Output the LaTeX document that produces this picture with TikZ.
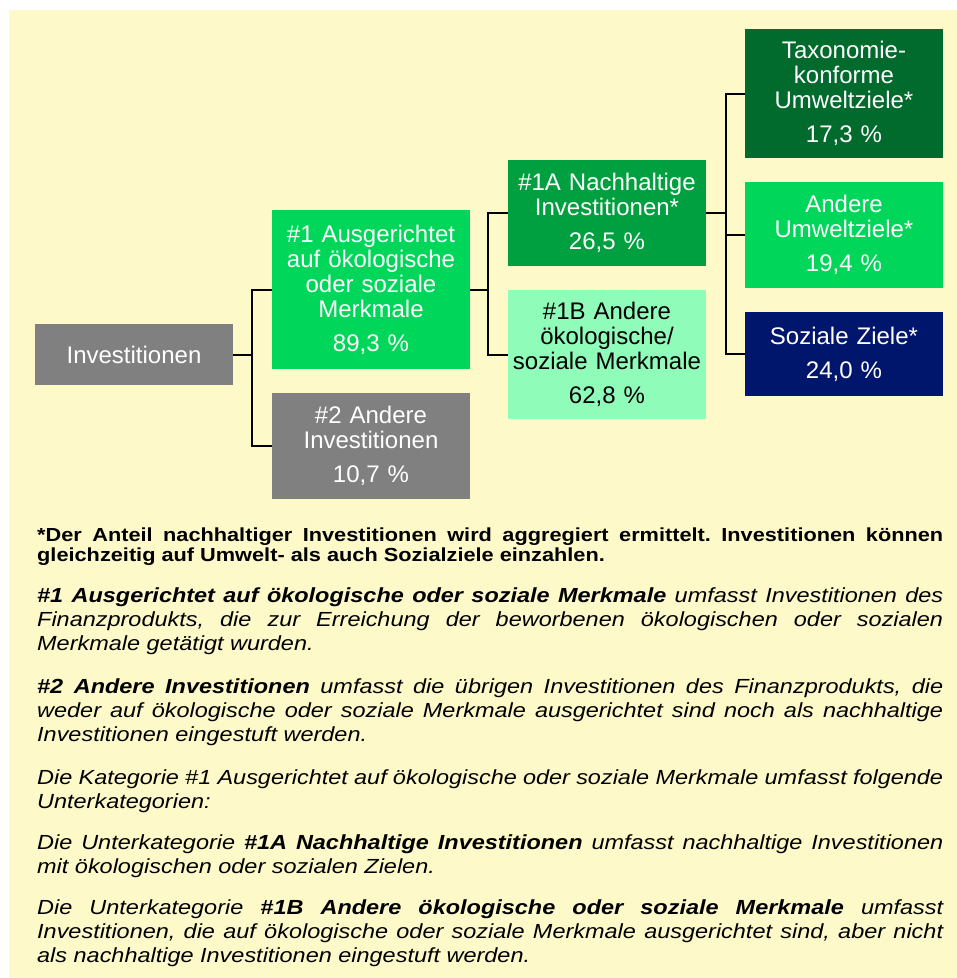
\documentclass[tikz,border=0pt]{standalone}
\usepackage{fontspec}
\setmainfont{Liberation Sans}
\newfontfamily\footfont[FakeStretch=1.15]{Liberation Sans}
\usepackage{tikz}

\definecolor{bgyellow}{HTML}{FDF9C9}
\definecolor{boxgray}{HTML}{808080}
\definecolor{greenbright}{HTML}{00D75A}
\definecolor{greenmid}{HTML}{00A040}
\definecolor{greendark}{HTML}{006B2D}
\definecolor{mint}{HTML}{8FFDB9}
\definecolor{navy}{HTML}{00166C}

\hyphenpenalty=10000
\exhyphenpenalty=10000
\frenchspacing

\begin{document}
\begin{tikzpicture}[x=1pt,y=-1pt,
    box/.style={minimum width=198pt,text width=196pt,align=center,inner sep=0pt,
        font=\fontsize{24}{25}\selectfont,text=white},
    conn/.style={line width=2pt},
    foot/.style={anchor=north west,text width=906pt,align=justify,inner sep=0pt,
        font=\footfont\fontsize{20.4}{24.4}\selectfont\itshape}]
    \useasboundingbox (0,0) rectangle (957,978);
    % background
    \fill[bgyellow] (9,10) rectangle (957,978);

    % boxes of the tree
    \node[box,fill=boxgray,minimum height=61pt] (inv) at (134,354.5) {Investitionen};
    \node[box,fill=greenbright,minimum height=159pt] (m1) at (371,289.5)
        {\#1 Ausgerichtet\\auf ökologische\\oder soziale\\Merkmale\\[9pt]89,3 \%};
    \node[box,fill=boxgray,minimum height=106pt] (m2) at (371,446)
        {\#2 Andere\\Investitionen\\[9pt]10,7 \%};
    \node[box,fill=greenmid,minimum height=106pt] (m1a) at (607,213)
        {\#1A Nachhaltige\\Investitionen*\\[9pt]26,5 \%};
    \node[box,fill=mint,text=black,minimum height=129pt] (m1b) at (607,354.5)
        {\#1B Andere\\ökologische/\\soziale Merkmale\\[9pt]62,8 \%};
    \node[box,fill=greendark,minimum height=129pt] (tax) at (844,93.5)
        {Taxonomie-\\konforme\\Umweltziele*\\[9pt]17,3 \%};
    \node[box,fill=greenbright,minimum height=106pt] (umw) at (844,235)
        {Andere\\Umweltziele*\\[9pt]19,4 \%};
    \node[box,fill=navy,minimum height=84pt] (soz) at (844,354)
        {Soziale Ziele*\\[9pt]24,0 \%};

    % connectors
    \draw[conn] (inv.east) -- ++(19,0) |- (m1.west);
    \draw[conn] (inv.east) -- ++(19,0) |- (m2.west);
    \draw[conn] (m1.east) -- ++(18,0) |- (m1a.west);
    \draw[conn] (m1.east) -- ++(18,0) |- (m1b.west);
    \draw[conn] (m1a.east) -- ++(20,0) |- (tax.west);
    \draw[conn] (m1a.east) -- ++(20,0) |- (umw.west);
    \draw[conn] (m1a.east) -- ++(20,0) |- (soz.west);

    % notes below the tree
    \node[foot,font=\footfont\fontsize{18.9}{20.5}\selectfont\bfseries] (note) at (37,526.6)
        {\strut*Der Anteil nachhaltiger Investitionen wird aggregiert ermittelt. Investitionen können\linebreak
        gleichzeitig auf Umwelt- als auch Sozialziele einzahlen.};
    \node[foot] (def1) at (37,584.9)
        {\strut\textbf{\#1 Ausgerichtet auf ökologische oder soziale Merkmale} umfasst Investitionen des\linebreak
        Finanzprodukts, die zur Erreichung der beworbenen ökologischen oder sozialen\linebreak
        Merkmale getätigt wurden.};
    \node[foot] (def2) at (37,675.9)
        {\strut\textbf{\#2 Andere Investitionen} umfasst die übrigen Investitionen des Finanzprodukts, die\linebreak
        weder auf ökologische oder soziale Merkmale ausgerichtet sind noch als nachhaltige\linebreak
        Investitionen eingestuft werden.};
    \node[foot] (kat) at (37,766.9)
        {\strut Die Kategorie \#1 Ausgerichtet auf ökologische oder soziale Merkmale umfasst folgende\linebreak
        Unterkategorien:};
    \node[foot] (def1a) at (37,831.9)
        {\strut Die Unterkategorie \textbf{\#1A Nachhaltige Investitionen} umfasst nachhaltige Investitionen\linebreak
        mit ökologischen oder sozialen Zielen.};
    \node[foot] (def1b) at (37,896.9)
        {\strut Die Unterkategorie \textbf{\#1B Andere ökologische oder soziale Merkmale} umfasst\linebreak
        Investitionen, die auf ökologische oder soziale Merkmale ausgerichtet sind, aber nicht\linebreak
        als nachhaltige Investitionen eingestuft werden.};
\end{tikzpicture}
\end{document}
